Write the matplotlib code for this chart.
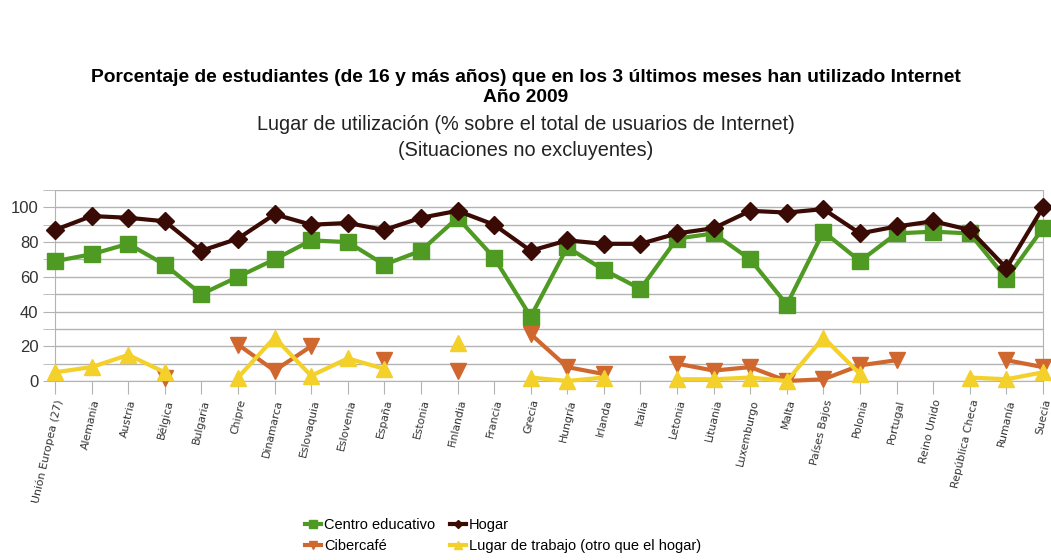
import numpy as np
import matplotlib.pyplot as plt

plt.rcParams['font.family'] = ['Liberation Sans', 'DejaVu Sans']

nan = np.nan

paises = ["Unión Europea (27)", "Alemania", "Austria", "Bélgica", "Bulgaria", "Chipre",
          "Dinamarca", "Eslovaquia", "Eslovenia", "España", "Estonia", "Finlandia",
          "Francia", "Grecia", "Hungría", "Irlanda", "Italia", "Letonia", "Lituania",
          "Luxemburgo", "Malta", "Países Bajos", "Polonia", "Portugal", "Reino Unido",
          "República Checa", "Rumanía", "Suecia"]

centro_educativo = [69, 73, 79, 67, 50, 60, 70, 81, 80, 67, 75, 94, 71, 37, 77, 64, 53,
                    82, 85, 70, 44, 86, 69, 85, 86, 85, 59, 88]
hogar = [87, 95, 94, 92, 75, 82, 96, 90, 91, 87, 94, 98, 90, 75, 81, 79, 79,
         85, 88, 98, 97, 99, 85, 89, 92, 87, 65, 100]
cibercafe = [nan, nan, nan, 2, nan, 21, 6, 20, nan, 12, nan, 6, nan, 27, 8, 4, nan,
             10, 6, 8, 0, 1, 9, 12, nan, nan, 12, 8]
trabajo = [5, 8, 15, 5, nan, 2, 25, 3, 13, 7, nan, 22, nan, 2, 0, 2, nan,
           1, 1, 2, 0, 25, 4, nan, nan, 2, 1, 5]

fig = plt.figure(figsize=(10.51, 5.60), dpi=100)
ax = fig.add_axes([55/1051, 1-381/560, (1043-55)/1051, (381-190)/560])

x = np.arange(len(paises))

l_centro, = ax.plot(x, centro_educativo, color='#4f9a22', lw=3, marker='s', ms=11,
                    label='Centro educativo', clip_on=False, zorder=3)
l_hogar, = ax.plot(x, hogar, color='#3a0a04', lw=3, marker='D', ms=9,
                   label='Hogar', clip_on=False, zorder=4)
l_ciber, = ax.plot(x, cibercafe, color='#d0672e', lw=3, marker='v', ms=11,
                   label='Cibercafé', clip_on=False, zorder=3)
l_trabajo, = ax.plot(x, trabajo, color='#f3d02a', lw=3, marker='^', ms=11,
                     label='Lugar de trabajo (otro que el hogar)', clip_on=False, zorder=3)

ax.set_xlim(0, len(paises)-1)
ax.set_ylim(0, 110)
ax.set_yticks(range(0, 101, 20))
ax.set_yticks(range(0, 111, 10), minor=True)
ax.grid(True, which='both', axis='y', color='#b3b3b3', lw=1)
ax.set_axisbelow(True)
ax.tick_params(axis='y', which='both', length=9, color='#b3b3b3', labelsize=12, pad=3,
               labelcolor='#333333')
ax.tick_params(axis='x', length=9, color='#b3b3b3', direction='out')
for s in ['left', 'bottom', 'right', 'top']:
    ax.spines[s].set_color('#b3b3b3')
ax.spines['top'].set_visible(False)

ax.set_xticks(x)
ax.set_xticklabels(paises, rotation=77, ha='right', rotation_mode='anchor', fontsize=7.8,
                   family='DejaVu Sans', color='#333333')

fig.text(0.5, 1-78/560, "Porcentaje de estudiantes (de 16 y más años) que en los 3 últimos meses han utilizado Internet",
         ha='center', va='center', fontsize=13.9, fontweight='bold')
fig.text(0.5, 1-97/560, "Año 2009", ha='center', va='center', fontsize=13.9, fontweight='bold')
fig.text(0.5, 1-125/560, "Lugar de utilización (% sobre el total de usuarios de Internet)",
         ha='center', va='center', fontsize=14.3, color='#222222')
fig.text(0.5, 1-151/560, "(Situaciones no excluyentes)", ha='center', va='center', fontsize=14.3,
         color='#222222')

fig.legend(handles=[l_centro, l_ciber, l_hogar, l_trabajo], loc='upper left',
           bbox_to_anchor=(292/1051, 1-505/560), ncol=2, frameon=False,
           fontsize=10.5, handlelength=1.1, handletextpad=0.2, columnspacing=1.0,
           labelspacing=0.45, markerscale=0.5)

fig.savefig('out.png', dpi=100)
